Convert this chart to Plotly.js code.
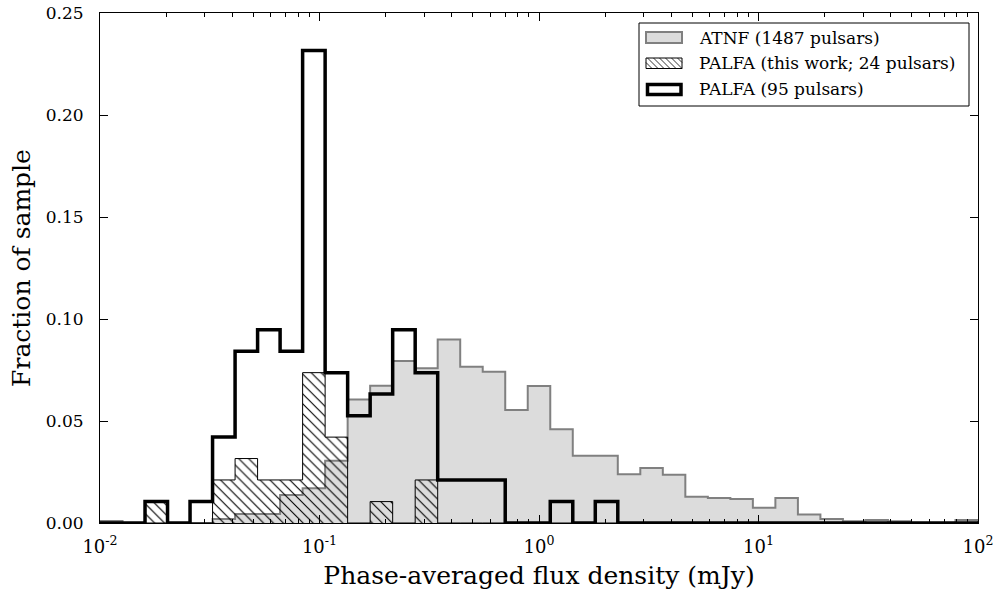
<!DOCTYPE html>
<html><head><meta charset="utf-8">
<script src="https://cdn.plot.ly/plotly-3.0.1.min.js"></script>
<style>html,body{margin:0;padding:0;background:#fff}#chart{width:1004px;height:596px}</style>
</head><body><div id="chart"></div>
<script>
// Histogram binning: 39 log-spaced bins from 10^-2 to 10^2 mJy
const LOG_MIN = -2, LOG_MAX = 2, N_BINS = 39;

// Fraction of sample per bin
const atnf = [0.0010, 0, 0, 0, 0, 0.0020, 0.0044, 0.0044, 0.0137, 0.0170,
  0.0305, 0.0606, 0.0673, 0.0794, 0.0758, 0.0900, 0.0766, 0.0742, 0.0554, 0.0672,
  0.0459, 0.0330, 0.0330, 0.0239, 0.0270, 0.0237, 0.0129, 0.0123, 0.0118, 0.0075,
  0.0122, 0.0042, 0.0020, 0.0008, 0.0015, 0.0008, 0, 0, 0.0015];
const palfaThisWork = [0, 0, 0.0105, 0, 0, 0.0211, 0.0316, 0.0211, 0.0211, 0.0737,
  0.0421, 0, 0.0105, 0, 0.0211, 0, 0, 0, 0, 0,
  0, 0, 0, 0, 0, 0, 0, 0, 0, 0,
  0, 0, 0, 0, 0, 0, 0, 0, 0];
const palfaAll = [0, 0, 0.0105, 0, 0.0105, 0.0421, 0.0842, 0.0947, 0.0842, 0.2316,
  0.0737, 0.0526, 0.0632, 0.0947, 0.0737, 0.0211, 0.0211, 0.0211, 0, 0,
  0.0105, 0, 0.0105, 0, 0, 0, 0, 0, 0, 0,
  0, 0, 0, 0, 0, 0, 0, 0, 0];
const seriesNames = ['ATNF (1487 pulsars)', 'PALFA (this work; 24 pulsars)', 'PALFA (95 pulsars)'];
const xTickVals = [0.01, 0.1, 1, 10, 100];
const xTickText = ['10<sup>-2</sup>', '10<sup>-1</sup>', '10<sup>0</sup>', '10<sup>1</sup>', '10<sup>2</sup>'];
const xTitle = 'Phase-averaged flux density (mJy)';
const yTitle = 'Fraction of sample';

const edges = [];
for (let i = 0; i <= N_BINS; i++) edges.push(Math.pow(10, LOG_MIN + i * (LOG_MAX - LOG_MIN) / N_BINS));

function stepXY(vals) {
  const x = [edges[0]], y = [0];
  for (let i = 0; i < vals.length; i++) { x.push(edges[i]); y.push(vals[i]); }
  x.push(edges[N_BINS]); y.push(vals[vals.length - 1]);
  x.push(edges[N_BINS]); y.push(0);
  return {x, y};
}

const sA = stepXY(atnf), sH = stepXY(palfaThisWork), sP = stepXY(palfaAll);
const traces = [
  {x: sA.x, y: sA.y, type: 'scatter', mode: 'lines', line: {shape: 'hv', color: '#808080', width: 2},
   fill: 'tozeroy', fillcolor: '#dcdcdc', showlegend: false, cliponaxis: false, hoverinfo: 'skip', name: seriesNames[0]},
  {x: sH.x, y: sH.y, type: 'scatter', mode: 'lines', line: {shape: 'hv', color: '#000000', width: 1},
   fill: 'tozeroy', fillcolor: 'rgba(0,0,0,0)',
   fillpattern: {shape: '\\', size: 7, solidity: 0.16, fgcolor: '#000000', fgopacity: 1, bgcolor: 'rgba(0,0,0,0)', fillmode: 'overlay'},
   showlegend: false, cliponaxis: false, hoverinfo: 'skip', name: seriesNames[1]},
  {x: sP.x, y: sP.y, type: 'scatter', mode: 'lines', line: {shape: 'hv', color: '#000000', width: 3.5},
   showlegend: false, cliponaxis: false, hoverinfo: 'skip', name: seriesNames[2]}
];

// Plot area geometry (pixels) for the hand-built legend
const W = 1004, H = 596, ML = 100, MR = 26, MT = 13, MB = 73;
const PW = W - ML - MR, PH = H - MT - MB;
const px = v => (v - ML) / PW;
const py = v => (H - MB - v) / PH;

const shapes = [];
const annotations = [];
// legend frame
shapes.push({type: 'rect', xref: 'paper', yref: 'paper', x0: px(639), x1: px(969), y0: py(106), y1: py(23),
  line: {color: '#000', width: 1}, fillcolor: '#fff', layer: 'above'});
// icons
const ix0 = 646, ix1 = 682;
shapes.push({type: 'rect', xref: 'paper', yref: 'paper', x0: px(ix0), x1: px(ix1), y0: py(43), y1: py(32),
  line: {color: '#808080', width: 2}, fillcolor: '#dcdcdc', layer: 'above'});
// hatched icon
const hy0 = 58, hy1 = 68.5;
let hp = '';
const hh = hy1 - hy0;
for (let k = -hh; k < ix1 - ix0; k += 6) {
  let xa = ix0 + k, ya = hy0, xb = ix0 + k + hh, yb = hy1;
  if (xa < ix0) { ya += (ix0 - xa); xa = ix0; }
  if (xb > ix1) { yb -= (xb - ix1); xb = ix1; }
  if (xb <= xa) continue;
  hp += 'M' + px(xa) + ',' + py(ya) + 'L' + px(xb) + ',' + py(yb);
}
shapes.push({type: 'path', xref: 'paper', yref: 'paper', path: hp, line: {color: '#000', width: 0.8}, layer: 'above'});
shapes.push({type: 'rect', xref: 'paper', yref: 'paper', x0: px(ix0), x1: px(ix1), y0: py(hy1), y1: py(hy0),
  line: {color: '#000', width: 1}, layer: 'above'});
shapes.push({type: 'rect', xref: 'paper', yref: 'paper', x0: px(ix0 + 1.5), x1: px(ix1 - 1), y0: py(94.5), y1: py(84.5),
  line: {color: '#000', width: 3.5}, fillcolor: '#fff', layer: 'above'});
const textY = [37.5, 63, 89];
for (let i = 0; i < 3; i++) {
  annotations.push({xref: 'paper', yref: 'paper', x: px(697), y: py(textY[i]), xanchor: 'left', yanchor: 'middle',
    text: seriesNames[i], showarrow: false, font: {family: 'DejaVu Serif', size: 17, color: '#000'}});
}

const layout = {
  width: W, height: H,
  margin: {l: ML, r: MR, t: MT, b: MB, pad: 0},
  paper_bgcolor: '#fff', plot_bgcolor: '#fff',
  font: {family: 'DejaVu Serif', color: '#000', size: 17},
  showlegend: false,
  xaxis: {
    type: 'log', range: [LOG_MIN, LOG_MAX], tickmode: 'array', tickvals: xTickVals, ticktext: xTickText,
    ticks: 'inside', ticklen: 8, tickwidth: 1, tickcolor: '#000',
    minor: {ticks: 'inside', ticklen: 4, tickwidth: 1, tickcolor: '#000', dtick: 'D1', showgrid: false},
    showline: true, linecolor: '#000', linewidth: 1, mirror: 'ticks', showgrid: false, zeroline: false,
    tickfont: {size: 18}, ticklabelstandoff: 7,
    title: {text: xTitle, font: {size: 25}, standoff: 10}
  },
  yaxis: {
    range: [0, 0.25], tickmode: 'linear', tick0: 0, dtick: 0.05, tickformat: '.2f',
    ticks: 'inside', ticklen: 8, tickwidth: 1, tickcolor: '#000',
    showline: true, linecolor: '#000', linewidth: 1, mirror: 'ticks', showgrid: false, zeroline: false,
    tickfont: {size: 17}, ticklabelstandoff: 12,
    title: {text: yTitle, font: {size: 25}, standoff: 7}
  },
  shapes: shapes,
  annotations: annotations
};
Plotly.newPlot('chart', traces, layout, {staticPlot: true});
</script>
</body></html>
